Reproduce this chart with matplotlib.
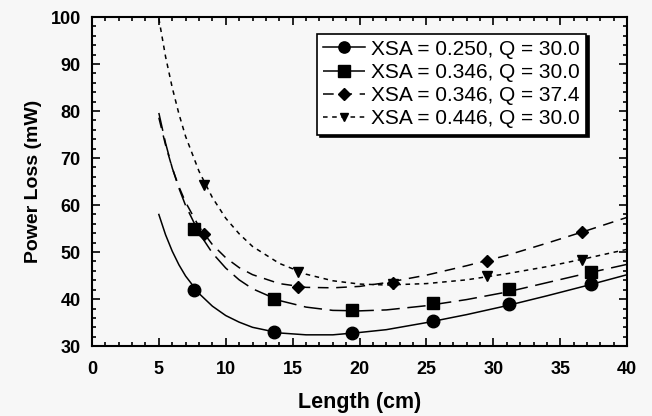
import matplotlib.pyplot as plt
from matplotlib.ticker import MultipleLocator

plt.rcParams['font.family'] = ['Liberation Sans', 'DejaVu Sans']

# fitted curves
curve_x = [5, 5.5, 6, 6.5, 7, 8, 9, 10, 11, 12, 14, 16, 18, 20, 22, 25, 28, 31, 34, 37, 40]
curve_a = [58.0, 53.7, 50.2, 47.3, 44.9, 41.2, 38.5, 36.5, 35.1, 34.0, 32.8, 32.4, 32.4, 32.9,
           33.5, 35.0, 36.7, 38.6, 40.7, 42.9, 45.2]
curve_b = [79.6, 73.2, 67.9, 63.6, 59.9, 54.1, 49.8, 46.6, 44.1, 42.2, 39.7, 38.3, 37.6, 37.5,
           37.7, 38.6, 39.9, 41.5, 43.5, 45.5, 47.4]
curve_c = [78.6, 72.8, 67.9, 63.9, 60.6, 55.4, 51.6, 48.8, 46.7, 45.2, 43.3, 42.5, 42.4, 42.7,
           43.5, 45.1, 47.1, 49.3, 51.9, 54.6, 57.4]
curve_d = [99.7, 91.6, 85.0, 79.4, 74.6, 67.2, 61.6, 57.2, 53.9, 51.2, 47.6, 45.3, 43.9, 43.2,
           43.0, 43.3, 44.1, 45.4, 46.9, 48.7, 50.6]

# measured points
pts_a_x = [7.6, 13.6, 19.4, 25.5, 31.2, 37.3]
pts_a_y = [42.0, 33.0, 32.8, 35.3, 38.9, 43.2]
pts_b_x = [7.6, 13.6, 19.4, 25.5, 31.2, 37.3]
pts_b_y = [54.9, 40.1, 37.7, 39.1, 42.1, 45.8]
pts_c_x = [8.4, 15.4, 22.5, 29.5, 36.6]
pts_c_y = [53.8, 42.6, 43.5, 48.1, 54.2]
pts_d_x = [8.4, 15.4, 22.5, 29.5, 36.6]
pts_d_y = [64.3, 45.8, 43.3, 44.9, 48.4]

labels = ['XSA = 0.250, Q = 30.0', 'XSA = 0.346, Q = 30.0',
          'XSA = 0.346, Q = 37.4', 'XSA = 0.446, Q = 30.0']

bg = '#f7f7f7'
fig = plt.figure(figsize=(6.52, 4.16), dpi=100, facecolor=bg)
ax = fig.add_axes([0.141, 0.168, 0.821, 0.791], facecolor=bg)

series = [
    (curve_a, pts_a_x, pts_a_y, '-', 'o', 9),
    (curve_b, pts_b_x, pts_b_y, (0, (12, 5)), 's', 9),
    (curve_c, pts_c_x, pts_c_y, (0, (7, 5)), 'D', 6.5),
    (curve_d, pts_d_x, pts_d_y, (0, (3, 3)), 'v', 7),
]
handles = []
for (cy, px, py, ls, mk, ms), lab in zip(series, labels):
    ax.plot(curve_x, cy, color='black', lw=1.1, ls=ls)
    ax.plot(px, py, ls='none', marker=mk, ms=ms, color='black')
    h, = ax.plot([], [], color='black', lw=1.1, ls=ls, marker=mk, ms=ms * 0.9, label=lab)
    handles.append(h)

ax.set_xlim(0, 40)
ax.set_ylim(30, 100)
ax.xaxis.set_major_locator(MultipleLocator(5))
ax.xaxis.set_minor_locator(MultipleLocator(1))
ax.yaxis.set_major_locator(MultipleLocator(10))
ax.yaxis.set_minor_locator(MultipleLocator(2))
ax.tick_params(which='both', direction='in', top=True, right=True, width=1.2)
ax.tick_params(which='major', length=6, labelsize=13, pad=8)
ax.tick_params(axis='x', which='major', pad=11)
ax.tick_params(which='minor', length=3)
for lbl in ax.get_xticklabels() + ax.get_yticklabels():
    lbl.set_fontweight('bold')
for s in ax.spines.values():
    s.set_linewidth(1.5)

ax.set_xlabel('Length (cm)', fontsize=15.5, fontweight='bold', labelpad=10)
ax.set_ylabel('Power Loss (mW)', fontsize=14, fontweight='bold', labelpad=6)

leg = ax.legend(handles=handles, loc='upper right', bbox_to_anchor=(0.923, 0.95),
                fontsize=15, frameon=True, fancybox=False, shadow={'color': 'black', 'alpha': 1},
                edgecolor='black', framealpha=1, handlelength=2.0, handletextpad=0.3,
                labelspacing=0.2, borderpad=0.3, borderaxespad=0)
leg.get_frame().set_facecolor('white')
leg.get_frame().set_linewidth(1.2)

fig.savefig('out.png', dpi=100, facecolor=bg)
